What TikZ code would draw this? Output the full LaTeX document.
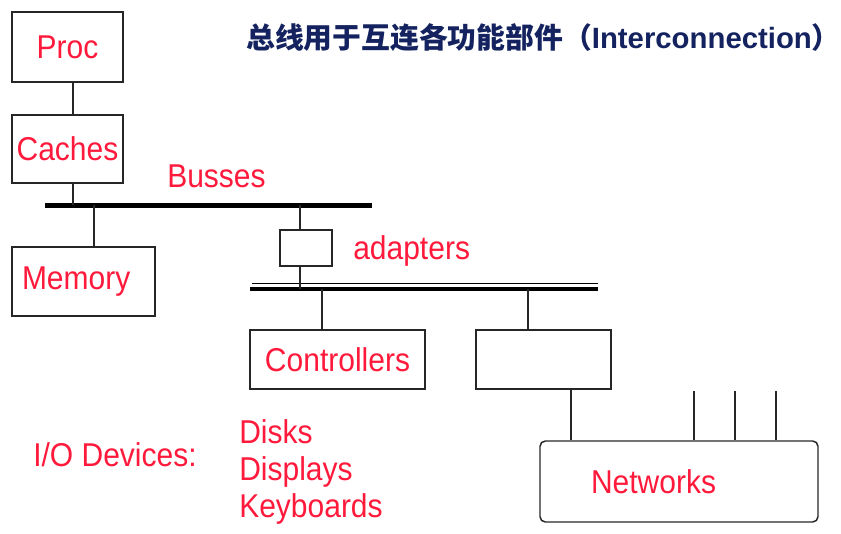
\documentclass[tikz,border=0pt]{standalone}
\usepackage{fontspec}
\setmainfont{Liberation Sans}
\newfontfamily\cjk{Noto Sans CJK SC}
\usepackage{tikz}
\usetikzlibrary{positioning,calc}
\definecolor{lblred}{HTML}{FF1A3C}
\definecolor{titlenavy}{HTML}{14235F}
\definecolor{linegray}{HTML}{262626}
\newcommand{\lblfont}{\fontsize{22.5}{27}\selectfont}
% slides were stretched a little in height
\newcommand{\tall}[2][1.1]{\scalebox{1}[#1]{#2}}
\tikzset{
    unitbox/.style={draw=linegray, line width=1.1pt, inner sep=0pt,
        text=lblred, font=\lblfont},
    redlabel/.style={text=lblred, font=\lblfont, inner sep=0pt,
        anchor=base west},
    tap/.style={draw=linegray, line width=1.1pt},
    busline/.style={draw=black, line width=#1},
}

\begin{document}
\begin{tikzpicture}[x=0.75pt, y=-0.75pt]
    \useasboundingbox (0,0) rectangle (841,533);

    % ── Title ──────────────────────────────────────────────────────────────
    \node[anchor=base west, text=titlenavy, inner sep=0pt] (title) at (246,48)
        {\cjk\bfseries\fontsize{21.6}{26}\selectfont
         总线用于互连各功能部件（{\rmfamily\fontsize{22}{26}\selectfont Interconnection}）};

    % ── Processor and caches ───────────────────────────────────────────────
    \node[unitbox, minimum width=83.25pt, minimum height=52.5pt]
        (proc) at (67.5,47) {\tall{Proc}};
    \node[unitbox, minimum width=83.25pt, minimum height=51pt]
        (caches) at (67.5,149) {\tall{Caches}};
    \coordinate (ptap) at (73,0);
    \draw[tap] (proc.south -| ptap) -- (caches.north -| ptap);

    % ── System bus ─────────────────────────────────────────────────────────
    \coordinate (busw) at (45,205);
    \coordinate (buse) at (372,205);
    \draw[busline=3.75pt] (busw) -- (buse);
    \node[redlabel] (busses) at (167,187) {\tall{Busses}};
    \draw[tap] (caches.south -| ptap) -- (ptap |- busw);

    % ── Memory ─────────────────────────────────────────────────────────────
    \node[unitbox, inner xsep=7.5pt, text width=92.25pt, align=left,
        minimum height=51.75pt]
        (memory) at (83.5,281.5) {\tall{Memory}};
    \coordinate (memtap) at (94,205);
    \draw[tap] (memtap) -- (memtap |- memory.north);

    % ── Adapter ────────────────────────────────────────────────────────────
    \node[unitbox, minimum width=39pt, minimum height=27pt]
        (adapter) at (306,248) {};
    \node[redlabel] (adapters) at (353,259) {\tall{adapters}};
    \coordinate (adtap) at (300,205);
    \draw[tap] (adtap) -- (adtap |- adapter.north);

    % ── I/O bus (double line) ──────────────────────────────────────────────
    \coordinate (iobusw) at (250,288.7);
    \coordinate (iobuse) at (598,288.7);
    \draw[busline=1.1pt] (252,283.3) -- (598,283.3);
    \draw[busline=3pt] (iobusw) -- (iobuse);
    \draw[tap] (adapter.south -| adtap) -- (adtap |- iobusw);

    % ── Controllers ────────────────────────────────────────────────────────
    \node[unitbox, minimum width=131.25pt, minimum height=44.25pt]
        (controllers) at (337.5,359.5) {\tall{Controllers}};
    \node[unitbox, minimum width=101.25pt, minimum height=44.25pt]
        (netctrl) at (543.5,359.5) {};
    \coordinate (ctap) at (322,288.7);
    \coordinate (ntap) at (528,288.7);
    \draw[tap] (ctap) -- (ctap |- controllers.north);
    \draw[tap] (ntap) -- (ntap |- netctrl.north);

    % ── Networks ───────────────────────────────────────────────────────────
    \node[unitbox, rounded corners=4pt, inner xsep=38.25pt, text width=132pt,
        align=left, minimum height=60.75pt]
        (networks) at (679,481.5) {\tall{Networks}};
    \coordinate (lantap) at (571,0);
    \draw[tap] (netctrl.south -| lantap) -- (networks.north -| lantap);
    \foreach \x in {694,735,776} {
        \coordinate (ext\x) at (\x,391);
        \draw[tap] (ext\x) -- (ext\x |- networks.north);
    }

    % ── I/O devices ────────────────────────────────────────────────────────
    \node[redlabel] (iodev) at (33,466) {\tall{I/O Devices:}};
    \node[redlabel] (disks) at (239,443.5) {\tall{Disks}};
    \node[redlabel] (displays) at (239,480.5) {\tall{Displays}};
    \node[redlabel] (keyboards) at (239,517.5) {\tall{Keyboards}};

\end{tikzpicture}
\end{document}
